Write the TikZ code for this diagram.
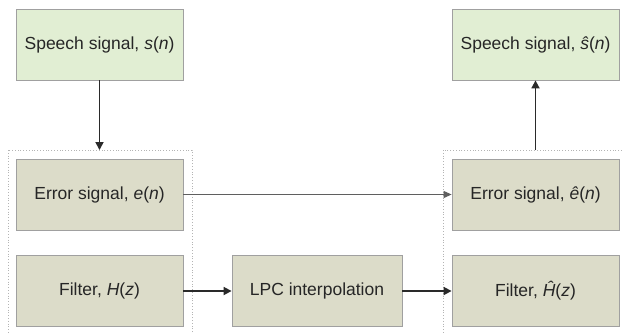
\documentclass[tikz,border=0pt]{standalone}
\usepackage{fontspec}
\setmainfont{Liberation Sans}
\usetikzlibrary{arrows.meta}
\definecolor{topfill}{HTML}{E1EED3}
\definecolor{lowfill}{HTML}{DCDCC9}
\definecolor{boxline}{HTML}{A0A0A0}
\definecolor{dotline}{HTML}{B4B4B4}
\definecolor{arrowcol}{HTML}{2A2A2A}
\tikzset{
  topbox/.style={draw=boxline, line width=0.8pt, fill=topfill, minimum width=167pt, minimum height=71pt, inner sep=0pt, font=\fontsize{17.5}{20}\selectfont, text=black!85},
  lowbox/.style={topbox, fill=lowfill},
  container/.style={draw=dotline, line width=0.8pt, dotted},
  conn/.style={draw=arrowcol, line width=1.7pt, -{Triangle[length=8pt,width=8pt]}},
  thinconn/.style={draw=arrowcol!75, line width=1pt, -{Triangle[length=8pt,width=7pt]}}
}
\begin{document}
\begin{tikzpicture}[x=1pt,y=-1pt]
\useasboundingbox (0,0) rectangle (624,333);
\clip (0,0) rectangle (624,333);
\fill[white] (0,0) rectangle (624,333);
% containers
\draw[container] (8,150) rectangle (192,345);
\draw[container] (443,150) rectangle (630,345);
% nodes
\node[topbox] (s) at (99.5,44.5) {Speech signal, \textit{s}(\textit{n})};
\node[topbox] (sh) at (535.5,44.5) {Speech signal, \textit{\^s}(\textit{n})};
\node[lowbox] (e) at (99.5,194.5) {Error signal, \textit{e}(\textit{n})};
\node[lowbox] (eh) at (535.5,194.5) {Error signal, \textit{\^e}(\textit{n})};
\node[lowbox] (h) at (99.5,291) {Filter, \textit{H}(\textit{z})};
\node[lowbox, minimum width=170pt] (lpc) at (317,291) {LPC interpolation};
\node[lowbox] (hh) at (535.5,291) {Filter, \textit{\^H}(\textit{z})};
% connectors
\coordinate (c1) at (99.5,150);
\coordinate (c2) at (535.5,150);
\draw[conn] (s) -- (c1);
\draw[conn] (c2) -- (sh);
\draw[thinconn] (e) -- (eh);
\draw[conn] (h) -- (lpc);
\draw[conn] (lpc) -- (hh);
\end{tikzpicture}
\end{document}
